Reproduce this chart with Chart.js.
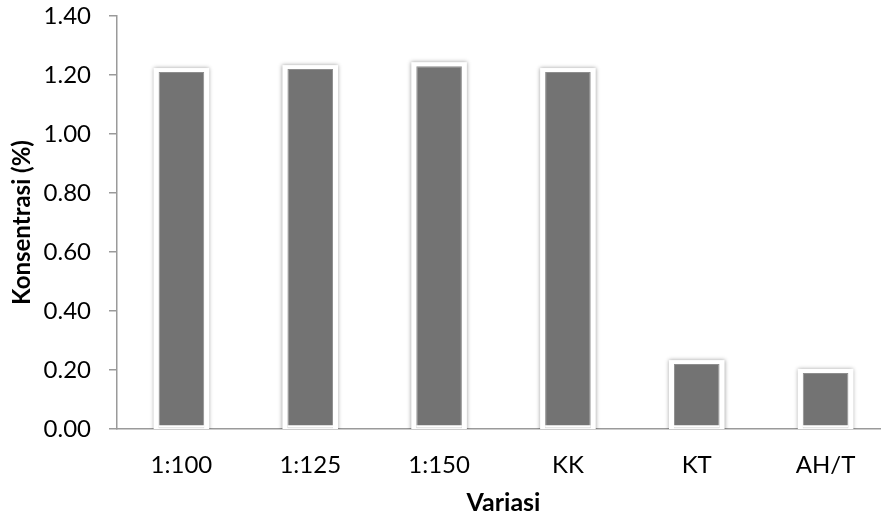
<!DOCTYPE html>
<html>
<head>
<meta charset="utf-8">
<script src="https://cdn.jsdelivr.net/npm/chart.js@4/dist/chart.umd.min.js"></script>
<style>
  html, body { margin: 0; padding: 0; background: #ffffff; overflow: hidden; }
  #wrap { width: 890px; height: 518px; }
</style>
</head>
<body>
<div id="wrap"><canvas id="c" width="890" height="518"></canvas></div>
<script>
// Konsentrasi per variasi
const categories = ['1:100', '1:125', '1:150', 'KK', 'KT', 'AH/T'];
const konsentrasi = [1.21, 1.22, 1.23, 1.21, 0.22, 0.19];
const yTicks = [0.00, 0.20, 0.40, 0.60, 0.80, 1.00, 1.20, 1.40];

const FONT = 'Lato, "Open Sans", sans-serif';
const AXIS_GREY = '#9a9a9a';

// White frame with a soft shadow around every bar, drawn behind the fill
const barFrame = {
  id: 'barFrame',
  beforeDatasetsDraw(chart) {
    const ctx = chart.ctx;
    const area = chart.chartArea;
    const meta = chart.getDatasetMeta(0);
    ctx.save();
    ctx.beginPath();
    ctx.rect(area.left, area.top - 10, area.right - area.left, area.bottom - area.top + 10);
    ctx.clip();
    meta.data.forEach(bar => {
      const p = bar.getProps(['x', 'y', 'base', 'width'], true);
      const l = p.x - p.width / 2 - 5;
      const t = p.y - 4;
      ctx.shadowColor = 'rgba(0,0,0,0.38)';
      ctx.shadowBlur = 4;
      ctx.fillStyle = '#ffffff';
      ctx.fillRect(l, t, p.width + 10, p.base - t + 6);
    });
    ctx.restore();
  },
  afterDatasetsDraw(chart) {
    const ctx = chart.ctx;
    const meta = chart.getDatasetMeta(0);
    ctx.save();
    ctx.fillStyle = '#ffffff';
    meta.data.forEach(bar => {
      const p = bar.getProps(['x', 'base', 'width'], true);
      ctx.fillRect(p.x - p.width / 2, p.base - 3, p.width, 2.5);
    });
    ctx.restore();
  }
};

new Chart(document.getElementById('c'), {
  type: 'bar',
  data: {
    labels: categories,
    datasets: [{
      data: konsentrasi,
      backgroundColor: '#737373',
      borderColor: '#8e8e8e',
      borderWidth: 1,
      borderSkipped: false,
      barPercentage: 0.354,
      categoryPercentage: 1.0
    }]
  },
  options: {
    responsive: false,
    devicePixelRatio: 1,
    animation: false,
    layout: { padding: { top: 16, right: 0, bottom: 0, left: 0 } },
    plugins: {
      legend: { display: false },
      tooltip: { enabled: false }
    },
    scales: {
      x: {
        grid: { display: false, drawTicks: false },
        border: { display: true, color: AXIS_GREY, width: 1.5 },
        ticks: {
          color: '#000000',
          font: { family: FONT, size: 24 },
          padding: 22,
          maxRotation: 0
        },
        title: {
          display: true,
          text: 'Variasi',
          color: '#000000',
          font: { family: FONT, size: 25, weight: 'bold' },
          padding: { top: 0, bottom: 0 }
        },
        afterFit(scale) {
          scale.height = 89;
          scale.paddingLeft = 0;
          scale.paddingRight = 0;
        }
      },
      y: {
        min: 0,
        max: 1.4,
        afterBuildTicks(scale) { scale.ticks = yTicks.map(v => ({ value: v })); },
        grid: {
          display: true,
          drawOnChartArea: false,
          drawTicks: true,
          tickLength: 8,
          color: AXIS_GREY,
          lineWidth: 1.5
        },
        border: { display: true, color: AXIS_GREY, width: 1.5 },
        ticks: {
          color: '#000000',
          font: { family: FONT, size: 24 },
          padding: 18,
          callback(v) { return Number(v).toFixed(2); }
        },
        title: {
          display: true,
          text: 'Konsentrasi (%)',
          color: '#000000',
          font: { family: FONT, size: 24, weight: 'bold' },
          padding: { top: 8, bottom: 0 }
        },
        afterFit(scale) {
          scale.width = 117;
          scale.paddingTop = 0;
          scale.paddingBottom = 0;
        }
      }
    }
  },
  plugins: [barFrame]
});
</script>
</body>
</html>
